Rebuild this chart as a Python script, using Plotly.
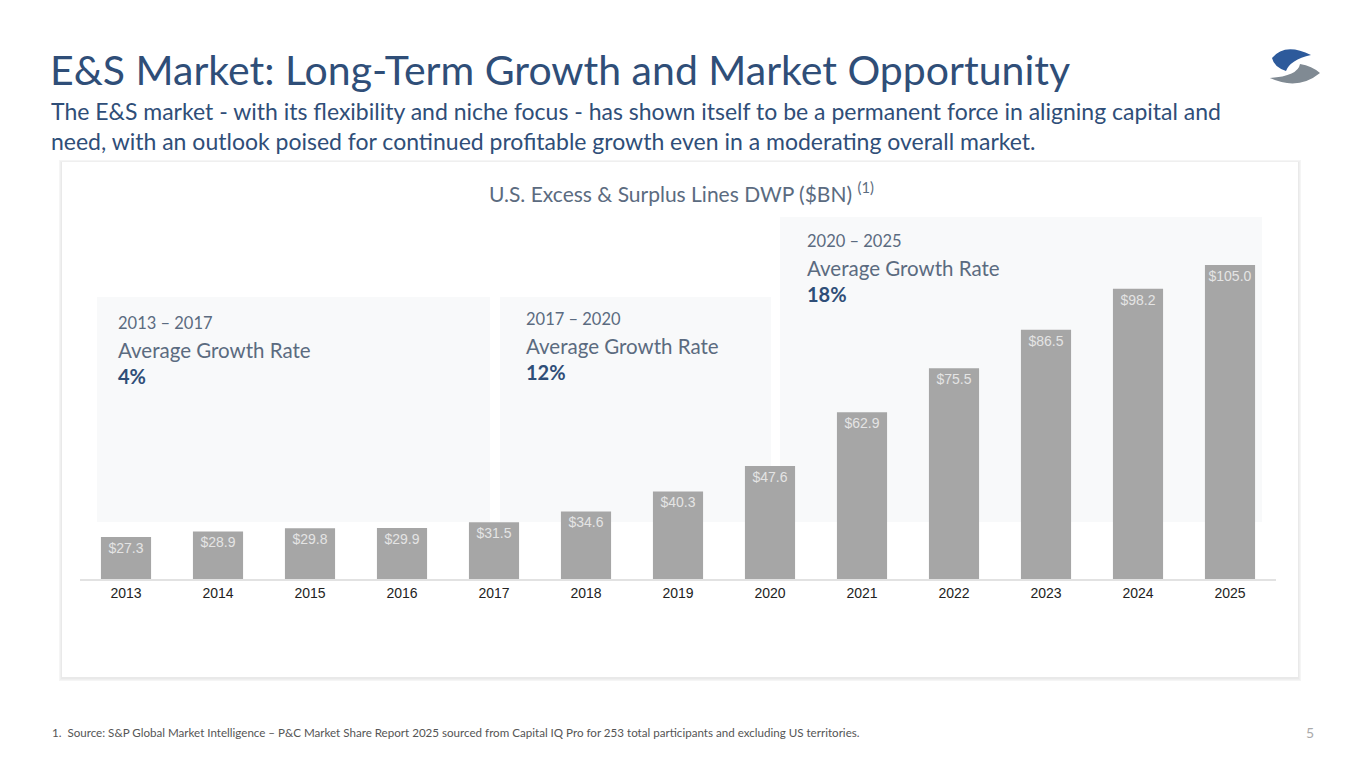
import plotly.graph_objects as go

years = ['2013', '2014', '2015', '2016', '2017', '2018', '2019',
         '2020', '2021', '2022', '2023', '2024', '2025']
dwp = [27.3, 28.9, 29.8, 29.9, 31.5, 34.6, 40.3, 47.6, 62.9, 75.5, 86.5, 98.2, 105.0]
labels = ['$%.1f' % v for v in dwp]

periods = ['2013 – 2017', '2017 – 2020', '2020 – 2025']
rates = ['4%', '12%', '18%']

W, H = 1365, 768
OFF = 8  # page margin of the browser
BLUE = '#2f4e78'
TXT = '#5b6b80'
FONT = 'Lato'


def px(x):
    return (x - OFF) / W


def py(y):
    return 1 - (y - OFF) / H


fig = go.Figure(go.Bar(
    x=years, y=dwp, text=labels, textposition='inside',
    insidetextanchor='end', textangle=0,
    textfont=dict(family='Arial', size=14, color='#e4e4e4'),
    marker=dict(color='#a6a6a6', line=dict(width=0)),
    width=0.545, base=0, hoverinfo='skip',
))

shapes = []
# card shadow + card
for i, c in enumerate(['#f5f5f5', '#efefef', '#e9e9e9']):
    d = 3 - i
    shapes.append(dict(type='rect', xref='paper', yref='paper', layer='below',
                       x0=px(62 - d), x1=px(1298 + d), y0=py(677 + d + 1), y1=py(162 - d + 1),
                       fillcolor=c, line=dict(width=0)))
shapes.append(dict(type='rect', xref='paper', yref='paper', layer='below',
                   x0=px(62), x1=px(1298), y0=py(677), y1=py(162),
                   fillcolor='white', line=dict(width=0)))
# shaded period boxes
boxes = [(97, 490, 297), (500, 771, 297), (780, 1262, 217)]
for x0, x1, y0 in boxes:
    shapes.append(dict(type='rect', xref='paper', yref='paper', layer='below',
                       x0=px(x0), x1=px(x1), y0=py(522), y1=py(y0),
                       fillcolor='#f8f9fa', line=dict(width=0)))

# logo
shapes.append(dict(type='path', xref='paper', yref='paper', fillcolor='#2d5a9b', line=dict(width=0),
                   path='M %f %f Q %f %f %f %f Q %f %f %f %f Q %f %f %f %f Z' % (
                       px(1311), py(55), px(1285), py(42), px(1272), py(58),
                       px(1274), py(67), px(1286), py(71),
                       px(1290), py(60), px(1311), py(55))))
shapes.append(dict(type='path', xref='paper', yref='paper', fillcolor='#808a93', line=dict(width=0),
                   path='M %f %f Q %f %f %f %f Q %f %f %f %f Q %f %f %f %f Z' % (
                       px(1270), py(78), px(1298), py(91), px(1320), py(73),
                       px(1312), py(66), px(1300), py(64),
                       px(1298), py(76), px(1270), py(78))))

ann = [
    dict(x=px(48), y=py(70), text='E&S Market: Long-Term Growth and Market Opportunity',
         font=dict(size=41, color=BLUE), xanchor='left', yanchor='middle'),
    dict(x=px(49), y=py(126), align='left',
         text='The E&S market - with its flexibility and niche focus - has shown itself to be a permanent force in aligning capital and<br>'
              'need, with an outlook poised for continued profitable growth even in a moderating overall market.',
         font=dict(size=23, color=BLUE), xanchor='left', yanchor='middle'),
    dict(x=px(681), y=py(192), text='U.S. Excess & Surplus Lines DWP ($BN) <sup>(1)</sup>',
         font=dict(size=21, color=TXT), xanchor='center', yanchor='middle'),
    dict(x=px(50), y=py(732), text='1.  Source: S&P Global Market Intelligence – P&C Market Share Report 2025 sourced from Capital IQ Pro for 253 total participants and excluding US territories.',
         font=dict(size=11.6, color='#555555'), xanchor='left', yanchor='middle'),
    dict(x=px(1316), y=py(732), text='5', font=dict(size=14, color='#aaaaaa'),
         xanchor='right', yanchor='middle'),
]
text_pos = [(116, 323), (524, 319), (805, 241)]
for (x, y), p, r in zip(text_pos, periods, rates):
    ann.append(dict(x=px(x), y=py(y), text=p, font=dict(size=16.5, color=TXT),
                    xanchor='left', yanchor='middle'))
    ann.append(dict(x=px(x), y=py(y + 27), text='Average Growth Rate', font=dict(size=20.5, color=TXT),
                    xanchor='left', yanchor='middle'))
    ann.append(dict(x=px(x), y=py(y + 53), text='<b>%s</b>' % r, font=dict(size=20, color=BLUE),
                    xanchor='left', yanchor='middle'))
for a in ann:
    a.update(xref='paper', yref='paper', showarrow=False)

fig.update_layout(
    width=W, height=H, margin=dict(l=0, r=0, t=0, b=0),
    paper_bgcolor='white', plot_bgcolor='rgba(0,0,0,0)',
    font=dict(family=FONT), showlegend=False,
    shapes=shapes, annotations=ann,
    xaxis=dict(domain=[px(80), px(1276)], range=[-0.5, 12.5], showgrid=False,
               showline=True, linecolor='#e2e2e2', linewidth=1.5, ticks='',
               tickfont=dict(family='Arial', size=14, color='#222222')),
    yaxis=dict(domain=[py(579), py(210)], range=[15.3, 120.7], visible=False),
)

fig.write_html('out.html')
